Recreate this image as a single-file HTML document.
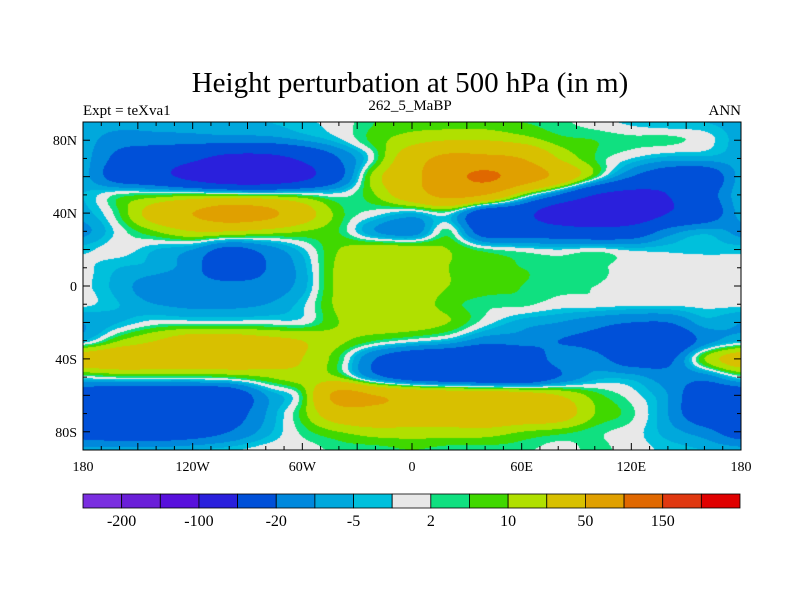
<!DOCTYPE html>
<html><head><meta charset="utf-8"><style>
body{margin:0;background:#fff;width:800px;height:600px;overflow:hidden;font-family:"Liberation Serif",serif}
#wrap{position:relative;width:800px;height:600px}
canvas{position:absolute;left:83px;top:122px}
svg{position:absolute;left:0;top:0}
</style></head><body><div id="wrap">
<canvas id="cv" width="658" height="328"></canvas>
<svg id="sv" width="800" height="600">
<text x="410" y="92" font-size="29" text-anchor="middle" font-family="Liberation Serif">Height perturbation at 500 hPa (in m)</text>
<text x="83" y="115" font-size="15" font-family="Liberation Serif">Expt = teXva1</text>
<text x="410" y="110" font-size="15" text-anchor="middle" font-family="Liberation Serif">262_5_MaBP</text>
<text x="741" y="115" font-size="15" text-anchor="end" font-family="Liberation Serif">ANN</text>
<g id="axes"></g><g id="cbar"></g>
</svg></div>
<script>
const lons=[-180,-160,-140,-120,-100,-80,-60,-40,-20,0,20,40,60,80,100,120,140,160,180];
const lats=[90,80,70,60,50,40,30,20,10,0,-10,-20,-30,-40,-50,-60,-70,-80,-90];
const r90=[-7,-7,-7,-7,-7,-5,-3,0,5,7,7,7,5,3,0,-3,-5,-5,-7];
const r80=[-7,-15,-15,-15,-15,-15,-10,-3,7,15,20,20,15,7,5,3,3,0,-7];
const r70=[-7,-25,-35,-45,-60,-60,-45,-20,3,35,60,60,50,20,5,-2,-7,-7,-7];
const r60=[-7,-30,-40,-60,-80,-80,-60,-25,15,40,80,110,75,40,5,-20,-35,-35,-7];
const r50=[-5,3,5,7,7,5,3,0,10,35,60,50,10,-20,-50,-60,-50,-30,-5];
const r40=[-7,5,30,50,70,60,30,7,0,-5,0,-35,-40,-70,-80,-75,-50,-35,-7];
const r30=[-12,0,10,20,20,15,10,5,-10,-15,3,-30,-30,-35,-40,-35,-15,-7,-12];
const r20=[-3,0,-5,-10,-25,-15,-3,10,15,15,10,3,0,-2,0,-3,-3,-3,-3];
const r10=[-1,-5,-7,-15,-35,-20,-7,12,15,15,10,7,5,3,3,0,0,0,-1];
const r0=[-1,-7,-15,-15,-15,-15,-7,12,12,15,10,7,5,3,2,0,0,-1,-1];
const rs10=[-1,-5,-10,-12,-12,-10,-3,12,15,15,7,3,3,0,0,-1,-1,-1,-1];
const rs20=[-10,-5,0,0,0,0,0,10,15,15,10,0,-7,-10,-15,-20,-20,-7,-10];
const rs30=[-5,10,20,30,30,25,20,12,5,0,-5,-15,-15,-20,-25,-40,-40,-15,-5];
const rs40=[30,35,35,35,35,30,20,5,-20,-35,-40,-45,-35,-15,-15,-30,-25,10,30];
const rs50=[0,3,3,3,5,10,15,10,-15,-30,-35,-40,-40,-20,-7,-7,-15,-15,0];
const rs60=[-35,-40,-40,-40,-35,-10,5,60,50,40,35,35,30,20,7,0,-10,-35,-35];
const rs70=[-40,-45,-45,-40,-30,-10,7,35,40,35,35,40,35,30,10,3,-10,-35,-40];
const rs80=[-30,-35,-35,-30,-20,-7,3,10,15,15,15,15,10,7,3,0,-7,-15,-30];
const rs90=[-7,-7,-7,-5,-3,0,0,3,3,5,3,3,3,0,3,0,-3,-5,-7];
const grid=[r90,r80,r70,r60,r50,r40,r30,r20,r10,r0,rs10,rs20,rs30,rs40,rs50,rs60,rs70,rs80,rs90];
const levels=[-200,-150,-100,-50,-20,-10,-5,-2,2,5,10,20,50,100,150,200];
const colors=["#7a2ee0","#6a1fd8","#5810dc","#2a20dc","#0050d8","#0088dc","#00a8dc","#00c0dc","#e8e8e8","#10e080","#40d800","#b0e000","#d8c000","#e0a000","#e06800","#e03810","#e00000"];
const cbLabels=["-200","-100","-20","-5","2","10","50","150"];

const X0=83,X1=741,Y0=122,Y1=450;
const xOf=lon=>X0+(lon+180)/360*(X1-X0);
const yOf=lat=>Y0+(90-lat)/180*(Y1-Y0);
function cr(p0,p1,p2,p3,t){return 0.5*((2*p1)+(-p0+p2)*t+(2*p0-5*p1+4*p2-p3)*t*t+(-p0+3*p1-3*p2+p3)*t*t*t);}
function g(i,j){i=Math.max(0,Math.min(lats.length-1,i));j=Math.max(0,Math.min(lons.length-1,j));return grid[i][j];}
function val(lon,lat){
  const fj=(lon-lons[0])/(lons[1]-lons[0]), fi=(lats[0]-lat)/(lats[0]-lats[1]);
  const j=Math.min(Math.floor(fj),lons.length-2), i=Math.min(Math.floor(fi),lats.length-2);
  const tx=fj-j, ty=fi-i, rows=[];
  for(let k=-1;k<=2;k++)rows.push(cr(g(i+k,j-1),g(i+k,j),g(i+k,j+1),g(i+k,j+2),tx));
  return cr(rows[0],rows[1],rows[2],rows[3],ty);
}
function colorIdx(v){let k=0;while(k<levels.length&&v>=levels[k])k++;return k;}
const rgb=colors.map(c=>[parseInt(c.slice(1,3),16),parseInt(c.slice(3,5),16),parseInt(c.slice(5,7),16)]);
const cv=document.getElementById('cv'),ctx=cv.getContext('2d');
const W=cv.width,H=cv.height,img=ctx.createImageData(W,H);
for(let y=0;y<H;y++)for(let x=0;x<W;x++){
  const lon=-180+(x+0.5)/W*360, lat=90-(y+0.5)/H*180;
  const c=rgb[colorIdx(val(lon,lat))], p=(y*W+x)*4;
  img.data[p]=c[0];img.data[p+1]=c[1];img.data[p+2]=c[2];img.data[p+3]=255;
}
ctx.putImageData(img,0,0);

const NS='http://www.w3.org/2000/svg';
function mk(tag,attrs,parent){const e=document.createElementNS(NS,tag);for(const k in attrs)e.setAttribute(k,attrs[k]);parent.appendChild(e);return e;}
const ax=document.getElementById('axes');
const fr=mk('rect',{x:X0,y:Y0,width:X1-X0,height:Y1-Y0,fill:'none',stroke:'#000','stroke-width':1},ax);


for(let lon=-180;lon<=180;lon+=10){
  const x=xOf(lon),L=(lon%30===0)?7:4;
  const t1=mk('line',{x1:x,y1:Y1,x2:x,y2:Y1-L,stroke:'#000'},ax);
  
  
  const t2=mk('line',{x1:x,y1:Y0,x2:x,y2:Y0+L,stroke:'#000'},ax);
  
  
}
for(let lat=-90;lat<=90;lat+=10){
  const y=yOf(lat),L=(lat%20===0)?7:4;
  const t1=mk('line',{x1:X0,y1:y,x2:X0+L,y2:y,stroke:'#000'},ax);
  
  
  const t2=mk('line',{x1:X1,y1:y,x2:X1-L,y2:y,stroke:'#000'},ax);
  
  
}
const xl=[[-180,'180'],[-120,'120W'],[-60,'60W'],[0,'0'],[60,'60E'],[120,'120E'],[180,'180']];
xl.forEach(([lon,s])=>{const t=mk('text',{x:xOf(lon),y:471,'font-size':14,'text-anchor':'middle'},ax);t.textContent=s;
  
  });
const yl=[[80,'80N'],[40,'40N'],[0,'0'],[-40,'40S'],[-80,'80S']];
yl.forEach(([lat,s])=>{const t=mk('text',{x:77,y:yOf(lat)+5,'font-size':14,'text-anchor':'end'},ax);t.textContent=s;
  
  });

const cb=document.getElementById('cbar');
const CX0=83,CX1=740,CY=494,CH=14,bw=(CX1-CX0)/colors.length;
colors.forEach((c,k)=>{const r=mk('rect',{x:CX0+k*bw,y:CY,width:bw,height:CH,fill:c,stroke:'#000','stroke-width':0.8},cb);
  
  });
cbLabels.forEach((s,k)=>{const t=mk('text',{x:CX0+(2*k+1)*bw,y:526,'font-size':16,'text-anchor':'middle'},cb);t.textContent=s;
  
  });
</script></body></html>
